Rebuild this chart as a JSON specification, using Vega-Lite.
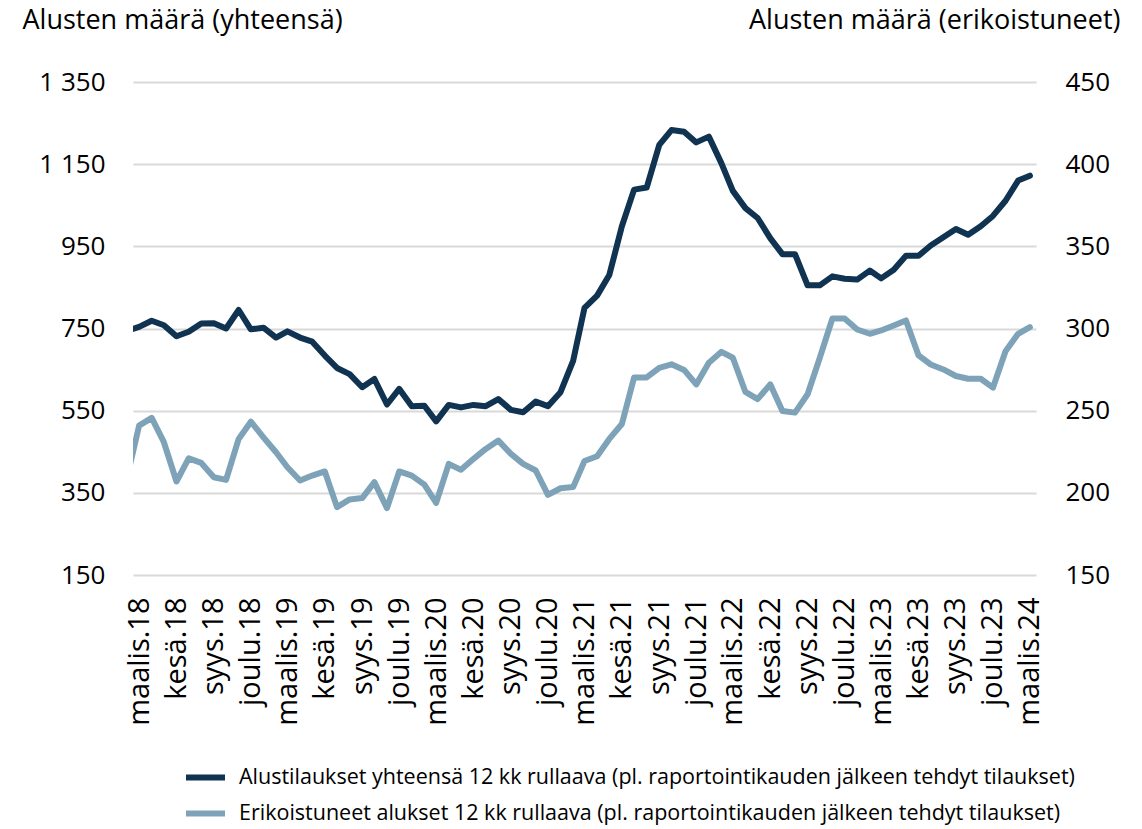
{
  "$schema": "https://vega.github.io/schema/vega-lite/v6.json",
  "width": 903,
  "height": 493,
  "autosize": {"type": "none"},
  "padding": {"left": 133, "top": 82, "right": 106, "bottom": 254},
  "background": "white",
  "config": {
    "font": "Open Sans",
    "view": {"stroke": null},
    "axis": {"labelColor": "#000", "titleColor": "#000", "titleFontWeight": "normal"}
  },
  "data": {
    "values": [
      {"date": "2018-02-01", "total": 745, "spec": 211},
      {"date": "2018-03-01", "total": 754, "spec": 240.9},
      {"date": "2018-04-01", "total": 769, "spec": 245.6},
      {"date": "2018-05-01", "total": 758, "spec": 230.8},
      {"date": "2018-06-01", "total": 731, "spec": 206.9},
      {"date": "2018-07-01", "total": 742, "spec": 221},
      {"date": "2018-08-01", "total": 762, "spec": 218.2},
      {"date": "2018-09-01", "total": 763, "spec": 209.5},
      {"date": "2018-10-01", "total": 750, "spec": 207.9},
      {"date": "2018-11-01", "total": 795, "spec": 232.8},
      {"date": "2018-12-01", "total": 748, "spec": 243.3},
      {"date": "2019-01-01", "total": 752, "spec": 233.8},
      {"date": "2019-02-01", "total": 728, "spec": 224.7},
      {"date": "2019-03-01", "total": 743, "spec": 215.6},
      {"date": "2019-04-01", "total": 728, "spec": 207.5},
      {"date": "2019-05-01", "total": 718, "spec": 210.5},
      {"date": "2019-06-01", "total": 684, "spec": 213},
      {"date": "2019-07-01", "total": 654, "spec": 191.3},
      {"date": "2019-08-01", "total": 639, "spec": 196},
      {"date": "2019-09-01", "total": 607, "spec": 196.8},
      {"date": "2019-10-01", "total": 627, "spec": 206.5},
      {"date": "2019-11-01", "total": 565, "spec": 190.7},
      {"date": "2019-12-01", "total": 603, "spec": 213},
      {"date": "2020-01-01", "total": 561, "spec": 210.5},
      {"date": "2020-02-01", "total": 562, "spec": 205},
      {"date": "2020-03-01", "total": 524, "spec": 193.9},
      {"date": "2020-04-01", "total": 564, "spec": 217.6},
      {"date": "2020-05-01", "total": 558, "spec": 214},
      {"date": "2020-06-01", "total": 564, "spec": 220.7},
      {"date": "2020-07-01", "total": 561, "spec": 226.7},
      {"date": "2020-08-01", "total": 578, "spec": 231.8},
      {"date": "2020-09-01", "total": 552, "spec": 223.7},
      {"date": "2020-10-01", "total": 546, "spec": 217.6},
      {"date": "2020-11-01", "total": 572, "spec": 213.6},
      {"date": "2020-12-01", "total": 561, "spec": 198.8},
      {"date": "2021-01-01", "total": 595, "spec": 202.8},
      {"date": "2021-02-01", "total": 671, "spec": 203.5},
      {"date": "2021-03-01", "total": 800, "spec": 219.4},
      {"date": "2021-04-01", "total": 830, "spec": 222.3},
      {"date": "2021-05-01", "total": 880, "spec": 232.8},
      {"date": "2021-06-01", "total": 999, "spec": 241.9},
      {"date": "2021-07-01", "total": 1088, "spec": 270.2},
      {"date": "2021-08-01", "total": 1093, "spec": 270.2},
      {"date": "2021-09-01", "total": 1197, "spec": 276.1},
      {"date": "2021-10-01", "total": 1233, "spec": 278.2},
      {"date": "2021-11-01", "total": 1229, "spec": 274.8},
      {"date": "2021-12-01", "total": 1203, "spec": 266},
      {"date": "2022-01-01", "total": 1217, "spec": 279.2},
      {"date": "2022-02-01", "total": 1152, "spec": 285.8},
      {"date": "2022-03-01", "total": 1085, "spec": 282.2},
      {"date": "2022-04-01", "total": 1043, "spec": 261.4},
      {"date": "2022-05-01", "total": 1019, "spec": 257},
      {"date": "2022-06-01", "total": 970, "spec": 266},
      {"date": "2022-07-01", "total": 931, "spec": 249.8},
      {"date": "2022-08-01", "total": 931, "spec": 248.8},
      {"date": "2022-09-01", "total": 855, "spec": 260},
      {"date": "2022-10-01", "total": 855, "spec": 282.2},
      {"date": "2022-11-01", "total": 877, "spec": 306.1},
      {"date": "2022-12-01", "total": 871, "spec": 306.1},
      {"date": "2023-01-01", "total": 869, "spec": 299.4},
      {"date": "2023-02-01", "total": 891, "spec": 296.8},
      {"date": "2023-03-01", "total": 872, "spec": 298.8},
      {"date": "2023-04-01", "total": 893, "spec": 301.8},
      {"date": "2023-05-01", "total": 927, "spec": 304.9},
      {"date": "2023-06-01", "total": 927, "spec": 283.6},
      {"date": "2023-07-01", "total": 952, "spec": 278.1},
      {"date": "2023-08-01", "total": 972, "spec": 275.1},
      {"date": "2023-09-01", "total": 992, "spec": 271.1},
      {"date": "2023-10-01", "total": 978, "spec": 269.4},
      {"date": "2023-11-01", "total": 999, "spec": 269.4},
      {"date": "2023-12-01", "total": 1024, "spec": 264},
      {"date": "2024-01-01", "total": 1061, "spec": 286.2},
      {"date": "2024-02-01", "total": 1110, "spec": 296.8},
      {"date": "2024-03-01", "total": 1122, "spec": 300.8}
    ]
  },
  "encoding": {
    "x": {
      "field": "date",
      "type": "temporal",
      "scale": {
        "type": "utc",
        "domain": [
          {"year": 2018, "month": 2, "date": 14, "utc": true},
          {"year": 2024, "month": 3, "date": 16, "utc": true}
        ]
      },
      "axis": {
        "title": null,
        "values": [
          {"year": 2018, "month": 3, "date": 1, "utc": true},
          {"year": 2018, "month": 6, "date": 1, "utc": true},
          {"year": 2018, "month": 9, "date": 1, "utc": true},
          {"year": 2018, "month": 12, "date": 1, "utc": true},
          {"year": 2019, "month": 3, "date": 1, "utc": true},
          {"year": 2019, "month": 6, "date": 1, "utc": true},
          {"year": 2019, "month": 9, "date": 1, "utc": true},
          {"year": 2019, "month": 12, "date": 1, "utc": true},
          {"year": 2020, "month": 3, "date": 1, "utc": true},
          {"year": 2020, "month": 6, "date": 1, "utc": true},
          {"year": 2020, "month": 9, "date": 1, "utc": true},
          {"year": 2020, "month": 12, "date": 1, "utc": true},
          {"year": 2021, "month": 3, "date": 1, "utc": true},
          {"year": 2021, "month": 6, "date": 1, "utc": true},
          {"year": 2021, "month": 9, "date": 1, "utc": true},
          {"year": 2021, "month": 12, "date": 1, "utc": true},
          {"year": 2022, "month": 3, "date": 1, "utc": true},
          {"year": 2022, "month": 6, "date": 1, "utc": true},
          {"year": 2022, "month": 9, "date": 1, "utc": true},
          {"year": 2022, "month": 12, "date": 1, "utc": true},
          {"year": 2023, "month": 3, "date": 1, "utc": true},
          {"year": 2023, "month": 6, "date": 1, "utc": true},
          {"year": 2023, "month": 9, "date": 1, "utc": true},
          {"year": 2023, "month": 12, "date": 1, "utc": true},
          {"year": 2024, "month": 3, "date": 1, "utc": true}
        ],
        "labelExpr": "['tammi','helmi','maalis','huhti','touko','kesä','heinä','elo','syys','loka','marras','joulu'][utcmonth(datum.value)] + '.' + utcFormat(datum.value, '%y')",
        "labelAngle": -90,
        "labelAlign": "right",
        "labelBaseline": "middle",
        "labelFontSize": 29,
        "labelPadding": 22,
        "labelOverlap": false,
        "labelFlush": false,
        "ticks": false,
        "domain": false,
        "grid": false
      }
    }
  },
  "layer": [
    {
      "mark": {"type": "line", "strokeWidth": 6, "clip": true, "strokeCap": "round", "strokeJoin": "round"},
      "encoding": {
        "y": {
          "field": "total",
          "type": "quantitative",
          "scale": {"domain": [150, 1350], "nice": false, "zero": false},
          "axis": {
            "orient": "left",
            "values": [150, 350, 550, 750, 950, 1150, 1350],
            "labelExpr": "replace(format(datum.value, ','), ',', ' ')",
            "labelFontSize": 26,
            "labelPadding": 28,
            "ticks": false,
            "domain": false,
            "grid": true,
            "gridColor": "#d9d9d9",
            "gridWidth": 2,
            "title": "Alusten määrä (yhteensä)",
            "titleAngle": 0,
            "titleAlign": "left",
            "titleBaseline": "alphabetic",
            "titleX": -111,
            "titleY": -54,
            "titleFontSize": 27
          }
        },
        "color": {
          "datum": "Alustilaukset yhteensä 12 kk rullaava (pl. raportointikauden jälkeen tehdyt tilaukset)",
          "type": "nominal",
          "scale": {
            "domain": [
              "Alustilaukset yhteensä 12 kk rullaava (pl. raportointikauden jälkeen tehdyt tilaukset)",
              "Erikoistuneet alukset 12 kk rullaava (pl. raportointikauden jälkeen tehdyt tilaukset)"
            ],
            "range": ["#0f3350", "#7ea3b9"]
          },
          "legend": {
            "orient": "none",
            "legendX": 50,
            "legendY": 673,
            "direction": "vertical",
            "title": null,
            "symbolType": "stroke",
            "symbolStrokeWidth": 6,
            "symbolSize": 1521,
            "labelFontSize": 21.5,
            "labelOffset": 11,
            "labelLimit": 0,
            "labelColor": "#000",
            "rowPadding": 1
          }
        }
      }
    },
    {
      "mark": {"type": "line", "strokeWidth": 6, "clip": true, "strokeCap": "round", "strokeJoin": "round"},
      "encoding": {
        "y": {
          "field": "spec",
          "type": "quantitative",
          "scale": {"domain": [150, 450], "nice": false, "zero": false},
          "axis": {
            "orient": "right",
            "values": [150, 200, 250, 300, 350, 400, 450],
            "labelFontSize": 26,
            "labelPadding": 29,
            "ticks": false,
            "domain": false,
            "grid": false,
            "title": "Alusten määrä (erikoistuneet)",
            "titleAngle": 0,
            "titleAlign": "right",
            "titleBaseline": "alphabetic",
            "titleX": 84,
            "titleY": -54,
            "titleFontSize": 27
          }
        },
        "color": {
          "datum": "Erikoistuneet alukset 12 kk rullaava (pl. raportointikauden jälkeen tehdyt tilaukset)",
          "type": "nominal"
        }
      }
    }
  ],
  "resolve": {"scale": {"y": "independent"}}
}
